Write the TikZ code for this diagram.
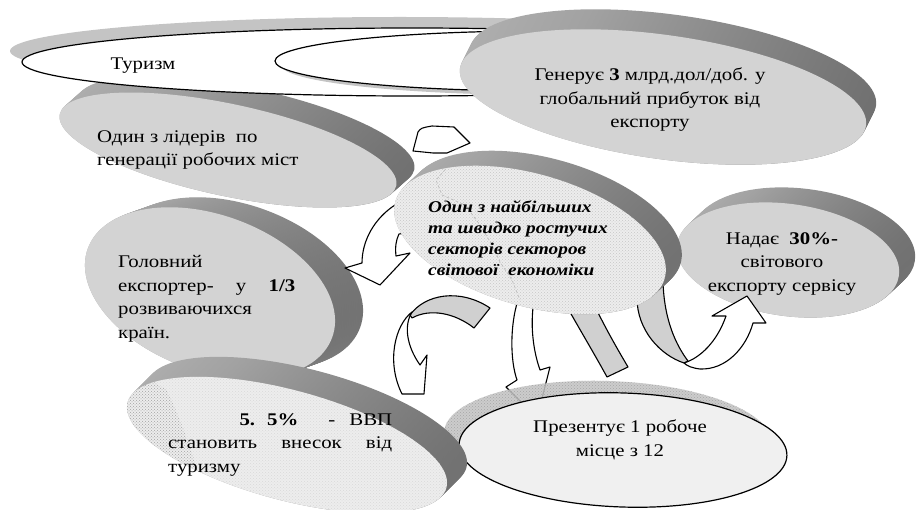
\documentclass[tikz,border=0pt]{standalone}
\usepackage{fontspec}
\setmainfont{Liberation Serif}[FakeStretch=1.17]
\usetikzlibrary{patterns}
\definecolor{facec}{HTML}{D3D3D3}
\definecolor{rimo}{HTML}{C6C6C6}
\definecolor{rimp}{HTML}{A2A2A2}
\definecolor{rimq}{HTML}{666666}
\definecolor{rimr}{HTML}{929292}
\definecolor{shadc}{HTML}{C4C4C4}
\definecolor{bandc}{HTML}{D0D0D0}
\definecolor{lightf}{HTML}{EDEDED}
\definecolor{gfill}{HTML}{F0F0F0}
\pgfdeclarehorizontalshading{rimsh}{100bp}{color(0bp)=(rimo); color(40bp)=(rimp); color(82bp)=(rimq); color(94bp)=(rimq); color(100bp)=(rimr)}
\newcommand\diskrim[7]{%
  \foreach \k in {0,...,16}{%
    \pgfmathsetmacro\px{#1+#6*(1-\k/16)}%
    \pgfmathsetmacro\py{#2-#7*(1-\k/16)}%
    \shade[shading=rimsh, rotate around={-#5:(\px,\py)}] (\px,\py) ellipse [x radius=#3, y radius=#4];
  }%
}
\newcommand\diskface[6]{%
  \fill[#6, rotate around={-#5:(#1,#2)}] (#1,#2) ellipse [x radius=#3, y radius=#4];
}
\tikzset{
  txt/.style={inner sep=0pt, font=\fontsize{17.8}{23.5}\selectfont},
  arw/.style={fill=white, draw=black, line width=1.1pt, line join=round},
  arwg/.style={fill=bandc, draw=black, line width=1.1pt, line join=round},
  outl/.style={draw=black, line width=1.2pt},
  dots/.style={pattern=crosshatch dots, pattern color=gray!45}
}
\begin{document}
\begin{tikzpicture}[x=1pt,y=-1pt]
\useasboundingbox (0,0) rectangle (921,510);
\fill[white] (0,0) rectangle (921,510);

% Disk A
\diskrim{228}{150}{172}{46}{12}{18}{16}
\diskface{228}{150}{172}{46}{12}{facec}
\node[txt, anchor=west, align=left] (tA) at (97,150) {Один з лідерів\ \ по\\генерації робочих міст};

% Tourism ellipses
\fill[shadc] (400,51) ellipse [x radius=390, y radius=34];
\filldraw[outl, fill=white] (412,62) ellipse [x radius=390, y radius=34];
\fill[shadc] (546,65) ellipse [x radius=265, y radius=30];
\filldraw[outl, fill=white] (540,61) ellipse [x radius=265, y radius=30];
\node[txt] (tur) at (143,66) {Туризм};

% Disk B
\diskrim{663}{97}{205}{62}{8}{10}{20}
\diskface{663}{97}{205}{62}{8}{facec}
\node[txt, align=center] (tB) at (650,100) {Генерує \textbf{3} млрд.дол/доб. у\\глобальний прибуток від\\експорту};

% Arrow 1
\filldraw[arw] (413,151) -- (418,132) .. controls (421,128) .. (432,126) -- (454,127) -- (470,143) -- (447,153) -- (433,153) -- cycle;

% Disk D
\diskrim{788}{260}{112}{56}{8}{16}{15}
\diskface{788}{260}{112}{56}{8}{facec}

% Arrow 6
\filldraw[arwg] (637,298) .. controls (637,330) and (660,355) .. (684,363) -- (688,361) .. controls (676,345) and (664,320) .. (663,281) -- cycle;
\filldraw[arw] (684,363) .. controls (700,358) and (717,342) .. (726,316) -- (712,316) -- (747,296) -- (766,323) -- (753,323) .. controls (746,348) and (726,370) .. (700,369) .. controls (692,368) and (687,366) .. (684,363) -- cycle;
\node[txt, align=center] (tD) at (782,264) {Надає\ \ \textbf{30\%-}\\світового\\експорту сервісу};

% Arrow 5 band
\filldraw[arwg] (562,298) .. controls (580,330) and (595,355) .. (607,377) -- (628,367) .. controls (615,345) and (602,322) .. (590,296) -- cycle;

% Disk E
\diskrim{210}{293}{130}{78}{20}{28}{10}
\diskface{210}{293}{130}{78}{20}{facec}
\node[txt, anchor=west, align=left] (tE) at (118,299) {Головний\\\hbox to 177pt{експортер-\hfill у\hfill\textbf{1/3}}\\розвиваючихся\\країн.};

% Arrow 4
\filldraw[arw] (518,300) .. controls (510,325) and (510,360) .. (517,380) -- (506,387) -- (537,418) -- (550,367) -- (540,370) .. controls (533,350) and (530,325) .. (534,300) -- cycle;

% G ellipse
\fill[shadc, fill opacity=0.85, rotate around={-2:(608,438)}] (608,438) ellipse [x radius=164, y radius=57];
\fill[pattern=crosshatch dots, pattern color=gray!70, rotate around={-2:(608,438)}] (608,438) ellipse [x radius=164, y radius=57];
\filldraw[outl, fill=gfill, rotate around={-2:(623,450)}] (623,450) ellipse [x radius=164, y radius=57];
\node[txt, align=center] (tG) at (620,440) {Презентує 1 робоче\\місце з 12};

% Arrow 3
\filldraw[arwg] (410,315) .. controls (425,294) and (460,288) .. (490,308) -- (474,328) .. controls (455,313) and (430,308) .. (412,318) -- cycle;
\filldraw[arw] (412,312) .. controls (395,325) and (386,362) .. (402,394) -- (424,394) -- (427,355) -- (420,365) .. controls (406,345) and (404,325) .. (412,312) -- cycle;

% Disk F
\diskrim{287}{445}{165}{55}{15}{20}{20}
\begin{scope}
  \clip[rotate around={-15:(287,445)}] (287,445) ellipse [x radius=165, y radius=55];
  \fill[lightf] (100,350) rectangle (480,520);
  \fill[pattern=crosshatch dots, pattern color=gray!30] (100,350) rectangle (480,520);
  \fill[pattern=crosshatch dots, pattern color=gray!70] (100,350) -- (167,390) .. controls (185,430) and (200,470) .. (207,515) -- (100,515) -- cycle;
\end{scope}
\node[txt, anchor=west, align=left] (tF) at (168,445) {\hbox to 224pt{\hfill\textbf{5.}\hspace{12pt}\textbf{5\%}\hspace{30pt}-\hspace{14pt}ВВП}\\\hbox to 224pt{становить\hfill внесок\hfill від}\\туризму};

% Arrow 2
\filldraw[arw] (395,205) .. controls (375,218) and (362,240) .. (362,263) -- (345,268) -- (380,285) -- (410,253) -- (396,256) .. controls (395,247) and (396,240) .. (399,234) -- (430,230) -- (430,205) -- cycle;

% Disk C (center)
\diskrim{530}{240}{140}{66}{16}{16}{15}
\begin{scope}
  \clip[rotate around={-16:(530,240)}] (530,240) ellipse [x radius=140, y radius=66];
  \fill[lightf] (380,150) rectangle (680,330);
  \fill[dots] (380,150) rectangle (680,330);
  \draw[gray!55, densely dashed, line width=0.6pt] (452,162) -- (436,180) -- (442,195) -- (465,205) -- (480,225) -- (492,245) -- (500,262) -- (512,280) -- (520,300);
\end{scope}
\node[anchor=west, align=left, inner sep=0pt, font=\fontsize{16.5}{21}\selectfont\bfseries\itshape] (tC) at (428,238) {Один з найбільших\\та швидко ростучих\\секторів секторов\\світової\ \ економіки};
\end{tikzpicture}
\end{document}
